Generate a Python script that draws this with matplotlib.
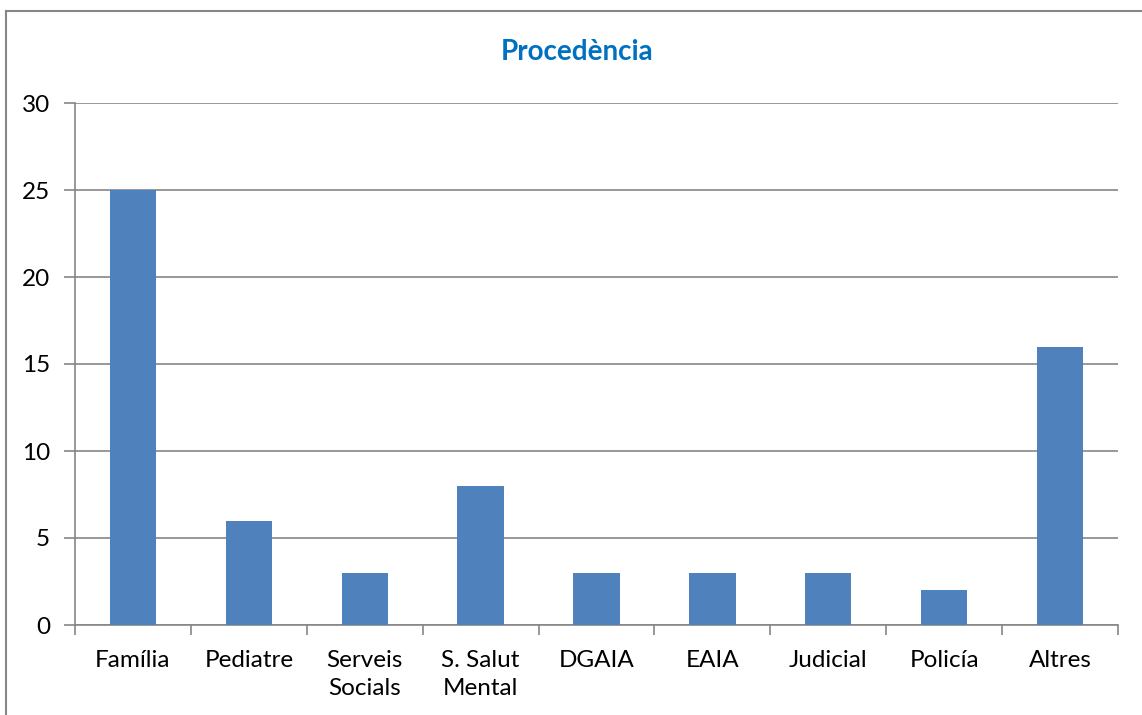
import numpy as np
import matplotlib.pyplot as plt
from matplotlib.lines import Line2D

# data
categories = ['Família', 'Pediatre', 'Serveis\nSocials', 'S. Salut\nMental', 'DGAIA',
              'EAIA', 'Judicial', 'Policía', 'Altres']
values = [25, 6, 3, 8, 3, 3, 3, 2, 16]
yticks = [0, 5, 10, 15, 20, 25, 30]

plt.rcParams['font.family'] = ['Lato', 'DejaVu Sans']

W, H = 1142, 715
fig = plt.figure(figsize=(W / 100, H / 100), dpi=100)
ax = fig.add_axes([75 / W, 1 - 625 / H, (1118 - 75) / W, (625 - 103) / H])

grey = '#868686'
x = np.arange(len(categories))
ax.bar(x, values, width=0.4, color='#4F81BD', zorder=3)

ax.set_xlim(-0.5, len(categories) - 0.5)
ax.set_ylim(0, 30)
ax.set_yticks(yticks)
ax.set_yticklabels([str(v) for v in yticks])
ax.yaxis.grid(True, color=grey, linewidth=1.2, zorder=0)

ax.set_xticks(x)
ax.set_xticklabels(categories, linespacing=1.4)
ax.set_xticks(np.arange(-0.5, len(categories)), minor=True)
ax.tick_params(axis='x', which='major', length=0, pad=18, labelsize=17.5)
ax.tick_params(axis='x', which='minor', length=7, width=1.2, color=grey)
ax.tick_params(axis='y', length=8, width=1.2, color=grey, pad=10, labelsize=17.5)

for s in ['top', 'right']:
    ax.spines[s].set_visible(False)
for s in ['left', 'bottom']:
    ax.spines[s].set_color(grey)
    ax.spines[s].set_linewidth(1.2)

fig.text(577 / W, 1 - 52 / H, 'Procedència', color='#0070C0', fontsize=20,
         fontweight='bold', ha='center', va='center')

# outer chart border (left and top only visible in the crop)
fig.add_artist(Line2D([6 / W, 6 / W], [0, 1 - 11 / H], color=grey, linewidth=1.5))
fig.add_artist(Line2D([6 / W, 1], [1 - 11 / H, 1 - 11 / H], color=grey, linewidth=1.5))

fig.savefig('out.png', dpi=100)
